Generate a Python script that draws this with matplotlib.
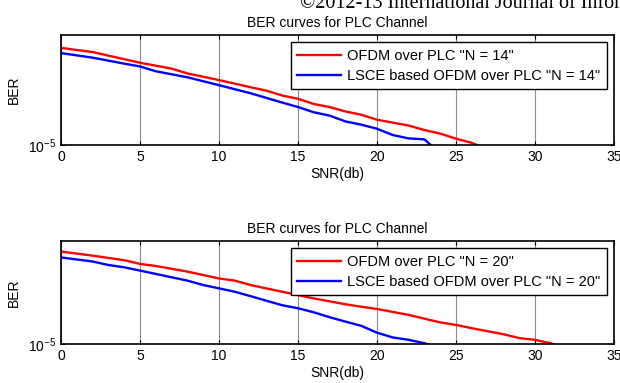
import numpy as np
import matplotlib.pyplot as plt
from matplotlib.ticker import FixedLocator, NullLocator

plt.rcParams['font.family'] = ['Liberation Sans', 'DejaVu Sans']
plt.rcParams['mathtext.fontset'] = 'custom'
plt.rcParams['mathtext.rm'] = 'Liberation Sans'
plt.rcParams['mathtext.it'] = 'Liberation Sans:italic'
plt.rcParams['axes.unicode_minus'] = False

# Data (BER vs SNR in dB)
snr_n14_ofdm = [0, 2, 5, 7, 8, 10, 12, 13, 14, 15, 16, 17, 18, 19, 20, 22, 23, 24, 25, 26, 27]
ber_n14_ofdm = [3.4e-2, 2.4e-2, 9.8e-3, 6.0e-3, 4.0e-3, 2.3e-3, 1.26e-3, 9.5e-4, 6.3e-4, 4.8e-4,
                3.1e-4, 2.4e-4, 1.66e-4, 1.26e-4, 8.3e-5, 5.1e-5, 3.5e-5, 2.6e-5, 1.7e-5, 1.2e-5, 7.0e-6]

snr_n14_lsce = [0, 2, 4, 5, 6, 8, 10, 12, 14, 15, 16, 17, 18, 19, 20, 21, 22, 23, 24]
ber_n14_lsce = [2.2e-2, 1.5e-2, 9.1e-3, 7.2e-3, 4.8e-3, 2.9e-3, 1.5e-3, 7.6e-4, 3.5e-4, 2.4e-4,
                1.55e-4, 1.17e-4, 7.2e-5, 5.5e-5, 3.9e-5, 2.3e-5, 1.74e-5, 1.6e-5, 5.0e-6]

snr_n20_ofdm = [0, 2, 4, 5, 6, 8, 10, 11, 12, 14, 16, 18, 19, 20, 22, 24, 25, 26, 28, 29, 30, 31, 32]
ber_n20_ofdm = [3.9e-2, 2.7e-2, 1.8e-2, 1.29e-2, 1.07e-2, 6.5e-3, 3.5e-3, 2.9e-3, 1.95e-3, 1.07e-3,
                5.9e-4, 3.5e-4, 2.8e-4, 2.3e-4, 1.35e-4, 6.9e-5, 5.5e-5, 4.1e-5, 2.4e-5, 1.7e-5,
                1.45e-5, 1.07e-5, 6.3e-6]

snr_n20_lsce = [0, 2, 3, 4, 5, 7, 8, 9, 10, 11, 12, 13, 14, 15, 16, 17, 18, 19, 20, 21, 22, 23, 24]
ber_n20_lsce = [2.3e-2, 1.6e-2, 1.17e-2, 9.5e-3, 7.1e-3, 3.9e-3, 2.9e-3, 1.95e-3, 1.45e-3, 1.07e-3,
                7.2e-4, 4.8e-4, 3.2e-4, 2.45e-4, 1.7e-4, 1.1e-4, 7.4e-5, 5.1e-5, 2.75e-5, 1.8e-5,
                1.45e-5, 1.07e-5, 7.0e-6]

panels = [
    (snr_n14_ofdm, ber_n14_ofdm, snr_n14_lsce, ber_n14_lsce, '14'),
    (snr_n20_ofdm, ber_n20_ofdm, snr_n20_lsce, ber_n20_lsce, '20'),
]
x_ticks = [0, 5, 10, 15, 20, 25, 30, 35]

fig = plt.figure(figsize=(6.2, 3.83), dpi=100)

# page header text cut by the crop
fig.text(300 / 620, 1 - 8 / 383, '\u00a92012-13 International Journal of Information Technology',
         family='Liberation Serif', fontsize=14.5, va='baseline', ha='left')

axes_rects = [
    [61 / 620, (383 - 145) / 383, 553 / 620, 110 / 383],
    [61 / 620, (383 - 344) / 383, 553 / 620, 103 / 383],
]

for rect, (xr, yr, xb, yb, n) in zip(axes_rects, panels):
    ax = fig.add_axes(rect)
    ax.plot(xr, yr, color='#ff0000', lw=1.7, label='OFDM over PLC "N = %s"' % n)
    ax.plot(xb, yb, color='#0000ff', lw=1.7, label='LSCE based OFDM over PLC "N = %s"' % n)
    ax.set_yscale('log')
    ax.set_ylim(1e-5, 1e-1)
    ax.set_xlim(0, 35)
    ax.yaxis.set_major_locator(FixedLocator([1e-5]))
    ax.yaxis.set_minor_locator(NullLocator())
    ax.set_xticks(x_ticks)
    ax.grid(True, axis='x', color='#8c8c8c', lw=0.8)
    ax.tick_params(direction='in', top=True, right=True, labelsize=10, length=3)
    for s in ax.spines.values():
        s.set_linewidth(1.2)
    ax.set_title('BER curves for PLC Channel', fontsize=10, pad=6)
    ax.set_xlabel('SNR(db)', fontsize=10, labelpad=2)
    ax.set_ylabel('BER', fontsize=10, labelpad=5)
    leg = ax.legend(loc='upper right', fontsize=10.5, frameon=True, fancybox=False,
                    edgecolor='black', framealpha=1, handlelength=3.0, handletextpad=0.4,
                    borderaxespad=0.5, borderpad=0.45, labelspacing=0.4)
    leg.get_frame().set_linewidth(1.0)

fig.savefig('out.png', dpi=100)
